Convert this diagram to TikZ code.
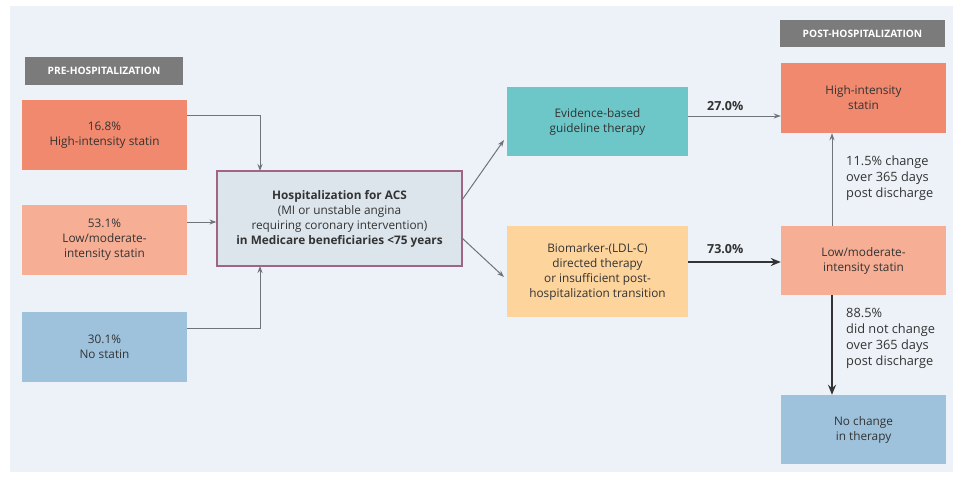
\documentclass[tikz,border=0pt]{standalone}
\usepackage{fontspec}
\setmainfont{Open Sans}
\usetikzlibrary{arrows.meta}
\definecolor{bgpanel}{HTML}{EDF2F8}
\definecolor{prehigh}{HTML}{F0896E}
\definecolor{prelow}{HTML}{F6AE95}
\definecolor{nostat}{HTML}{9EC2DC}
\definecolor{hospfill}{HTML}{DCE5EC}
\definecolor{hospline}{HTML}{A06585}
\definecolor{evid}{HTML}{6DC6C8}
\definecolor{biom}{HTML}{FDD49C}
\definecolor{labgray}{HTML}{7B7B7B}
\definecolor{txt}{HTML}{333333}
\definecolor{thin}{HTML}{6F747A}
\tikzset{
  boxs/.style={inner sep=0pt, align=center, font=\fontsize{11.8}{15}\selectfont, text=txt},
  hdr/.style={fill=labgray, text=white, inner sep=0pt, font=\bfseries\fontsize{10.2}{12}\selectfont},
  thinarrow/.style={draw=thin, line width=1pt, -{Stealth[length=7pt,width=5pt]}},
  thickarrow/.style={draw=txt, line width=2pt, -{Stealth[length=10pt,width=8pt]}},
  lbl/.style={text=txt, align=left, font=\fontsize{12.8}{16}\selectfont, inner sep=0pt},
  pct/.style={font=\bfseries\fontsize{12.5}{15}\selectfont, text=txt, inner sep=0pt}
}
\begin{document}
\begin{tikzpicture}[x=1pt,y=-1pt]
\useasboundingbox (0,0) rectangle (962,477);
\fill[white] (0,0) rectangle (962,477);
\fill[bgpanel] (10,6) rectangle (953,472);

% headers
\node[hdr, minimum width=158pt, minimum height=28pt] (prehdr) at (104,71) {PRE-HOSPITALIZATION};
\node[hdr, minimum width=165pt, minimum height=27pt] (posthdr) at (862.5,33.5) {POST-HOSPITALIZATION};

% pre boxes
\node[boxs, fill=prehigh, minimum width=165pt, minimum height=70pt] (prehi) at (104.5,135) {16.8\%\\High-intensity statin};
\node[boxs, fill=prelow, minimum width=165pt, minimum height=70pt] (prelo) at (104.5,240) {53.1\%\\Low/moderate-\\intensity statin};
\node[boxs, fill=nostat, minimum width=165pt, minimum height=70pt] (prenone) at (104.5,347) {30.1\%\\No statin};

% hospitalization
\node[boxs, fill=hospfill, draw=hospline, line width=1.2pt, minimum width=245pt, minimum height=95pt] (hosp) at (339.5,218.5)
  {\textbf{Hospitalization for ACS}\\(MI or unstable angina\\requiring coronary intervention)\\\textbf{in Medicare beneficiaries <75 years}};

% middle
\node[boxs, fill=evid, minimum width=181pt, minimum height=69pt] (evid) at (597.5,121.5) {Evidence-based\\guideline therapy};
\node[boxs, fill=biom, minimum width=181pt, minimum height=91pt] (biom) at (597.5,271.5) {Biomarker-(LDL-C)\\directed therapy\\or insufficient post-\\hospitalization transition};

% post
\node[boxs, fill=prehigh, minimum width=165pt, minimum height=70pt] (posthi) at (863.5,98) {High-intensity\\statin};
\node[boxs, fill=prelow, minimum width=165pt, minimum height=69pt] (postlo) at (863.5,260.5) {Low/moderate-\\intensity statin};
\node[boxs, fill=nostat, minimum width=165pt, minimum height=69pt] (nochg) at (863.5,429.5) {No change\\in therapy};

% pre -> hosp
\draw[thinarrow] (prehi.east |- 0,115) -| (260,171);
\draw[thinarrow] (prelo.east |- 0,222) -- (hosp.west |- 0,222);
\draw[thinarrow] (prenone.east |- 0,328) -| (260,266);

% hosp -> middle
\coordinate (h1) at (462,200);
\coordinate (h2) at (462,238);
\coordinate (e1) at (504,140);
\coordinate (b1) at (504,277);
\draw[thinarrow] (h1) -- (e1);
\draw[thinarrow] (h2) -- (b1);

% middle -> post
\draw[thinarrow] (evid.east |- 0,116) -- (posthi.west |- 0,116) node[pos=0.4, above=5pt, pct] {27.0\%};
\draw[thickarrow] (biom.east |- 0,262) -- (postlo.west |- 0,262) node[pos=0.4, above=7pt, pct] {73.0\%};

% post verticals
\draw[thinarrow] (postlo.north -| 832,0) -- (posthi.south -| 832,0);
\draw[thickarrow] (postlo.south -| 832,0) -- (nochg.north -| 832,0);
\node[lbl, anchor=north west] (l1) at (846,156) {11.5\% change\\over 365 days\\post discharge};
\node[lbl, anchor=north west] (l2) at (846,308) {88.5\%\\did not change\\over 365 days\\post discharge};
\end{tikzpicture}
\end{document}
